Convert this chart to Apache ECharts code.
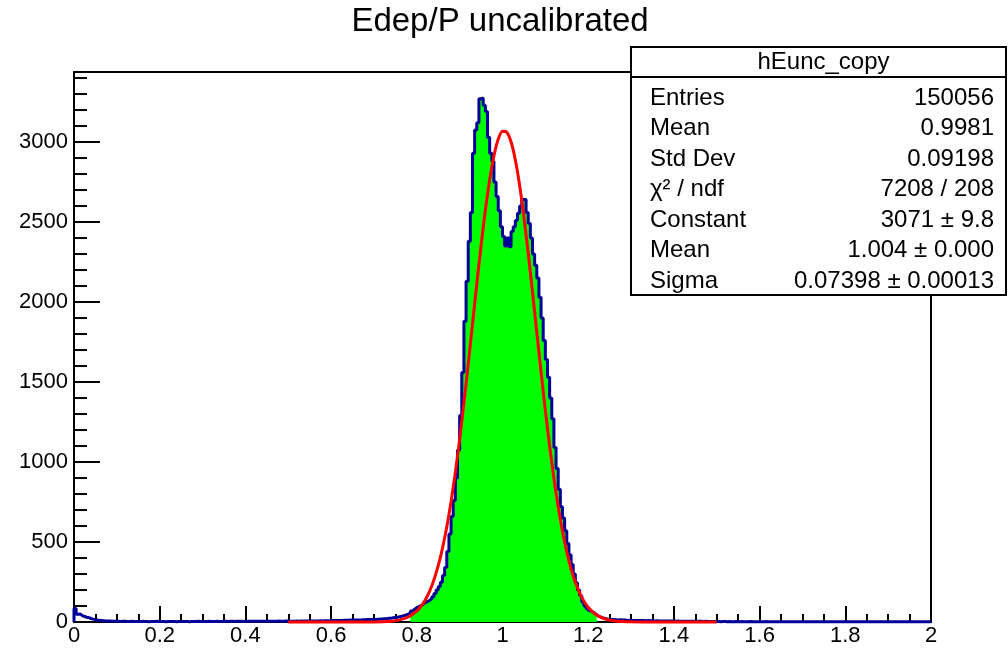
<!DOCTYPE html>
<html><head><meta charset="utf-8">
<script src="https://cdn.jsdelivr.net/npm/echarts@6/dist/echarts.min.js"></script>
<style>html,body{margin:0;padding:0;background:#fff}#c{width:1008px;height:649px}</style>
</head><body><div id="c"></div>
<script>
const chartTitle = 'Edep/P uncalibrated';
const xMin = 0, xMax = 2, binWidth = 0.005;
const yMax = 3437.5;
const xTickStep = 0.2, yTickStep = 500, yMinorStep = 100;

// histogram bin contents (400 bins, 0..2)
const countsLow = [
  85,48,50,38,34,30,27,22,18,15,
  12,10,9,8,7,6,6,5,5,4,
  4,3,4,4,3,3,4,3,3,3,
  3,4,3,3,2,3,3,3,4,3,
  3,3,2,3,3,3,3,2,3,3,
  3,3,3,2,3,3,3,4,3,3,
  3,3,4,3,3,3,4,3,3,4,
  4,3,4,4,3,4,4,4,3,4,
  4,4,5,4,4,4,5,4,5,5,
  5,4,5,5,5,6,5,5,6,6,
  5,5,5,6,5,6,6,6,6,7,
  6,7,7,7,8,7,8,8,8,9,
  9,9,10,10,10,11,11,11,12,12,
  12,13,13,13,14,14,15,15,15,16
];
const countsPeak = [
  16,17,18,19,20,21,23,24,26,28,
  30,33,36,40,44,49,55,68,80,90,
  96,102,112,120,128,136,145,158,178,200,
  222,248,290,340,440,550,660,760,900,1075,
  1290,1560,1880,2130,2380,2560,2930,3075,3120,3270,
  3275,3230,3190,3030,2930,2880,2750,2660,2570,2470,
  2410,2350,2400,2345,2440,2470,2510,2555,2600,2640,
  2640,2560,2490,2400,2300,2230,2150,2030,1900,1760,
  1640,1530,1400,1270,1090,960,830,720,650,570,
  490,420,360,300,245,200,165,125,100,85,
  72,64,56,45,35,30,25,22,19,17,
  16,15,14,13,14,12,12,11,10,11
];
const countsHigh = [
  10,10,9,10,9,9,8,9,8,8,
  7,8,7,7,7,6,7,6,6,6,
  5,6,5,5,5,5,4,5,4,4,
  4,4,4,3,4,3,3,3,3,3,
  3,2,3,3,2,3,2,2,3,2,
  2,3,2,2,2,3,2,2,2,2,
  2,2,3,2,2,2,2,1,2,2,
  2,2,2,1,2,2,2,2,1,2,
  2,1,2,2,2,1,2,2,1,2,
  2,2,1,2,1,2,2,1,2,2,
  1,2,2,1,2,1,2,2,1,2,
  2,1,2,1,2,2,1,2,1,2,
  1,2,1,2,1,1,2,1,2,1,
  2,1,1,2,1,1,2,1,1,2
];
// green-filled sub range (bin indices)
const fillFirstBin = 157, fillLastBin = 243;

// gaussian fit curve (Constant 3071, Mean 1.004, Sigma 0.07398)
const fitX = [0.50,0.55,0.60,0.65,0.70,0.72,0.74,0.76,0.78,0.80,0.81,0.82,0.83,0.84,0.85,0.86,0.87,0.88,0.89,0.90,
  0.91,0.92,0.93,0.94,0.95,0.96,0.97,0.98,0.99,1.00,1.01,1.02,1.03,1.04,1.05,1.06,1.07,1.08,1.09,1.10,
  1.11,1.12,1.13,1.14,1.15,1.16,1.17,1.18,1.19,1.20,1.21,1.22,1.24,1.26,1.28,1.30,1.35,1.40,1.45,1.50];
const fitY = [0,0,0,0,0.7,1.9,5.3,13.3,31.4,68.6,98.6,139.3,193.2,263.2,351.8,461.9,595.4,753.7,936.9,1143.3,
  1369.9,1611.9,1862.2,2112.4,2352.8,2573.2,2763.2,2913.5,3016.5,3066.5,3060.9,3000.0,2887.1,2728.1,2531.2,2306.0,2062.8,1811.8,1562.6,1323.2,
  1100.2,898.2,720.1,566.8,438.1,332.4,247.7,181.3,130.2,91.9,63.6,43.3,18.9,7.7,2.9,1.0,0.05,0,0,0];

const statTitle = 'hEunc_copy';
const statLabels = ['Entries','Mean','Std Dev','χ² / ndf','Constant','Mean','Sigma'];
const statValues = ['150056','0.9981','0.09198','7208 / 208','3071 ± 9.8','1.004 ± 0.000','0.07398 ± 0.00013'];

const counts = countsLow.concat(countsPeak, countsHigh);
const FONT = '"Liberation Sans", Arial, Helvetica, sans-serif';

const edge = i => +(xMin + i * binWidth).toFixed(4);
const histData = [[xMin, 0]];
for (let i = 0; i < counts.length; i++) histData.push([edge(i), counts[i]]);
histData.push([xMax, counts[counts.length - 1]]);
histData.push([xMax, 0]);

const fillData = [];
for (let i = fillFirstBin; i <= fillLastBin; i++) fillData.push([edge(i), counts[i]]);
fillData.push([edge(fillLastBin + 1), counts[fillLastBin]]);

const fitData = fitX.map((x, i) => [x, fitY[i]]);

const chart = echarts.init(document.getElementById('c'), null, {renderer: 'canvas'});

const boxX = 631, boxY = 47, boxW = 375, boxH = 248;
const graphics = [];
graphics.push({type:'text', z:100, x:500, y:22, style:{text: chartTitle, font:'33px ' + FONT, fill:'#000', align:'center', verticalAlign:'middle'}});
graphics.push({type:'rect', z:100, shape:{x:boxX, y:boxY, width:boxW, height:boxH}, style:{fill:'#fff', stroke:'#000', lineWidth:2}});
graphics.push({type:'line', z:101, shape:{x1:boxX, y1:77, x2:boxX+boxW, y2:77}, style:{stroke:'#000', lineWidth:2}});
graphics.push({type:'text', z:101, x: boxX + boxW/2 + 5, y: 62, style:{text: statTitle, font:'24px ' + FONT, fill:'#000', align:'center', verticalAlign:'middle'}});
statLabels.forEach((lab, k) => {
  const yy = 98 + 30.5 * k;
  graphics.push({type:'text', z:101, x: 650, y: yy, style:{text: lab, font:'24px ' + FONT, fill:'#000', align:'left', verticalAlign:'middle'}});
  graphics.push({type:'text', z:101, x: 994, y: yy, style:{text: statValues[k], font:'24px ' + FONT, fill:'#000', align:'right', verticalAlign:'middle'}});
});

const axisLineStyle = {color:'#000', width:2};
chart.setOption({
  animation: false,
  backgroundColor: '#fff',
  grid: {left:74, right:77, top:72, bottom:27, show:true, borderColor:'#000', borderWidth:2, backgroundColor:'rgba(0,0,0,0)'},
  xAxis: {
    type:'value', min:xMin, max:xMax, interval:xTickStep,
    axisLine:{show:true, onZero:false, lineStyle:axisLineStyle},
    axisTick:{show:true, inside:true, length:16, lineStyle:axisLineStyle},
    minorTick:{show:true, splitNumber:4, length:8, lineStyle:axisLineStyle},
    splitLine:{show:false}, minorSplitLine:{show:false},
    axisLabel:{color:'#000', fontSize:22, fontFamily:FONT, margin:3, showMinLabel:true, showMaxLabel:true}
  },
  yAxis: [{
    type:'value', min:0, max:yMax, interval:yTickStep,
    axisLine:{show:true, onZero:false, lineStyle:axisLineStyle},
    axisTick:{show:true, inside:true, length:26, lineStyle:axisLineStyle},
    splitLine:{show:false},
    axisLabel:{color:'#000', fontSize:22, fontFamily:FONT, margin:6, showMaxLabel:false,
      formatter: v => (Math.abs(v % yTickStep) < 1e-9 ? String(v) : '')}
  }, {
    type:'value', position:'left', offset:0, min:0, max:yMax, interval:yMinorStep,
    axisLine:{show:false},
    axisTick:{show:true, inside:true, length:13, lineStyle:axisLineStyle},
    splitLine:{show:false}, axisLabel:{show:false}
  }],
  series: [
    {type:'line', name:'fill', data: fillData, step:'end', symbol:'none', silent:true, z:2,
     lineStyle:{width:0, color:'#00ff00'}, itemStyle:{color:'#00ff00'}, areaStyle:{color:'#00ff00', opacity:1}},
    {type:'line', name:'hist', data: histData, step:'end', symbol:'none', silent:true, z:3, clip:false,
     lineStyle:{width:3, color:'#000099'}, itemStyle:{color:'#000099'}},
    {type:'line', name:'fit', data: fitData, smooth:0.25, symbol:'none', silent:true, z:4, clip:false,
     lineStyle:{width:3, color:'#ff0000'}, itemStyle:{color:'#ff0000'}}
  ],
  graphic: graphics
});
</script></body></html>
